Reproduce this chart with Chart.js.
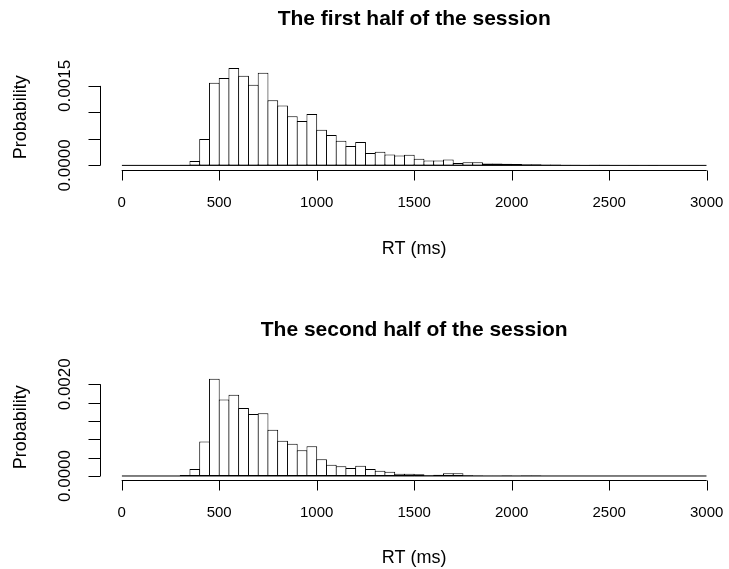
<!DOCTYPE html>
<html>
<head>
<meta charset="utf-8">
<script src="https://cdn.jsdelivr.net/npm/chart.js@4/dist/chart.umd.min.js"></script>
<style>
  html, body { margin: 0; padding: 0; background: #ffffff; }
  #wrap { position: relative; width: 729px; height: 569px; background: #ffffff; }
  canvas { position: absolute; left: 0; top: 0; }
</style>
</head>
<body>
<div id="wrap">
  <canvas id="c1" width="729" height="569"></canvas>
  <canvas id="c2" width="729" height="569"></canvas>
</div>
<script>
// ---------- DATA ----------
const binStartsMs = [0,50,100,150,200,250,300,350,400,450,500,550,600,650,700,750,800,850,900,950,
  1000,1050,1100,1150,1200,1250,1300,1350,1400,1450,1500,1550,1600,1650,1700,1750,1800,1850,1900,1950,
  2000,2050,2100,2150,2200,2250,2300,2350,2400,2450,2500,2550,2600,2650,2700,2750,2800,2850,2900,2950];
const binWidthMs = 50;

const firstHalfDensity = [0,0,0,0,0,0,0.000012,0.000082,0.000497,0.00156,
  0.00165,0.00184,0.00169,0.00152,0.00175,0.00123,0.00113,0.000925,0.000837,0.00097,
  0.000673,0.000572,0.000465,0.000365,0.00044,0.000233,0.000258,0.000208,0.000189,0.0002,
  0.000126,0.000094,0.000094,0.000113,0.000044,0.000058,0.000058,0.000036,0.000036,0.00003,
  0.000025,0.00002,0.00002,0.000015,0.000015,0.00001,0.000012,0.000006,0.00001,0.00001,
  0.000006,0.000005,0.000008,0.000005,0.000008,0,0,0,0,0];

const secondHalfDensity = [0,0,0,0,0,0,0.00002,0.000153,0.00075,0.00212,
  0.00167,0.00177,0.00148,0.00135,0.00137,0.00101,0.00077,0.000705,0.00056,0.000647,
  0.000364,0.000247,0.000211,0.000175,0.000225,0.000153,0.000115,0.000095,0.00005,0.00005,
  0.000036,0.000015,0.000025,0.000058,0.000058,0.000015,0.00001,0.000007,0.000007,0.00001,
  0.000007,0.00001,0.00001,0,0,0,0,0,0,0,
  0,0,0,0,0,0,0,0,0,0];

const xTickValues = [0,500,1000,1500,2000,2500,3000];
const xTickLabels = ["0","500","1000","1500","2000","2500","3000"];
const firstYTicks = [0,0.0005,0.0010,0.0015];
const firstYTickLabels = ["0.0000","","","0.0015"];
const secondYTicks = [0,0.0004,0.0008,0.0012,0.0016,0.0020];
const secondYTickLabels = ["0.0000","","","","","0.0020"];
const panelTitles = ["The first half of the session","The second half of the session"];
const xAxisTitle = "RT (ms)";
const yAxisTitle = "Probability";

// ---------- DRAWING ----------
const FONT = '"Liberation Sans", Arial, Helvetica, sans-serif';

const rAxesPlugin = {
  id: 'rAxes',
  afterDraw(chart, args, o) {
    const ctx = chart.ctx;
    const xs = chart.scales.x, ys = chart.scales.y;
    const ca = chart.chartArea;
    ctx.save();
    ctx.strokeStyle = '#000';
    ctx.fillStyle = '#000';
    ctx.lineWidth = 1;

    // x axis
    const yAx = Math.round(ca.bottom) + 0.5;
    const xa = xs.getPixelForValue(o.xTicks[0]);
    const xb = xs.getPixelForValue(o.xTicks[o.xTicks.length - 1]);
    ctx.beginPath();
    ctx.moveTo(xa, yAx); ctx.lineTo(xb, yAx);
    o.xTicks.forEach(v => {
      const px = Math.round(xs.getPixelForValue(v)) + 0.5;
      ctx.moveTo(px, yAx); ctx.lineTo(px, yAx + 10);
    });
    ctx.stroke();
    ctx.font = '15px ' + FONT;
    ctx.textAlign = 'center';
    ctx.textBaseline = 'middle';
    o.xTicks.forEach((v, i) => {
      ctx.fillText(o.xLabels[i], xs.getPixelForValue(v), ca.bottom + 33);
    });
    ctx.font = '18px ' + FONT;
    ctx.fillText(o.xTitle, (ca.left + ca.right) / 2, ca.bottom + 79);

    // y axis
    const xAy = Math.round(ca.left - 21.7) + 0.5;
    const ya = ys.getPixelForValue(o.yTicks[0]);
    const yb = ys.getPixelForValue(o.yTicks[o.yTicks.length - 1]);
    ctx.beginPath();
    ctx.moveTo(xAy, ya); ctx.lineTo(xAy, yb);
    o.yTicks.forEach(v => {
      const py = Math.round(ys.getPixelForValue(v)) + 0.5;
      ctx.moveTo(xAy, py); ctx.lineTo(xAy - 12, py);
    });
    ctx.stroke();
    ctx.font = '17px ' + FONT;
    o.yTicks.forEach((v, i) => {
      if (!o.yLabels[i]) return;
      ctx.save();
      ctx.translate(65, ys.getPixelForValue(v));
      ctx.rotate(-Math.PI / 2);
      ctx.fillText(o.yLabels[i], 0, 0);
      ctx.restore();
    });
    ctx.font = '18px ' + FONT;
    ctx.save();
    ctx.translate(21, (ca.top + ca.bottom) / 2);
    ctx.rotate(-Math.PI / 2);
    ctx.fillText(o.yTitle, 0, 0);
    ctx.restore();

    // title
    ctx.font = 'bold 21px ' + FONT;
    ctx.fillText(o.title, (ca.left + ca.right) / 2, ca.top + o.titleOffset);
    ctx.restore();
  }
};

function makePanel(canvasId, values, yTicks, yLabels, title, yMin, yMax, pad, titleOffset) {
  const barData = binStartsMs.map((s, i) => ({ x: s + binWidthMs / 2, y: values[i] }));
  const baseData = [{ x: xTickValues[0], y: 0 }, { x: xTickValues[xTickValues.length - 1], y: 0 }];
  return new Chart(document.getElementById(canvasId), {
    type: 'bar',
    data: {
      datasets: [
        {
          type: 'bar',
          data: barData,
          backgroundColor: '#ffffff',
          borderColor: '#000000',
          borderWidth: 1,
          borderSkipped: false,
          barPercentage: 1.1,
          categoryPercentage: 1.0,
          order: 2
        },
        {
          type: 'line',
          data: baseData,
          borderColor: '#000000',
          borderWidth: 1,
          pointRadius: 0,
          fill: false,
          order: 1
        }
      ]
    },
    options: {
      responsive: false,
      animation: false,
      devicePixelRatio: 1,
      layout: { padding: pad },
      plugins: {
        legend: { display: false },
        title: { display: false },
        tooltip: { enabled: false },
        rAxes: {
          xTicks: xTickValues, xLabels: xTickLabels, xTitle: xAxisTitle,
          yTicks: yTicks, yLabels: yLabels, yTitle: yAxisTitle,
          title: title, titleOffset: titleOffset
        }
      },
      scales: {
        x: { type: 'linear', display: false, min: 0, max: 3000, offset: false },
        y: { type: 'linear', display: false, min: yMin, max: yMax }
      }
    },
    plugins: [rAxesPlugin]
  });
}

makePanel('c1', firstHalfDensity, firstYTicks, firstYTickLabels, panelTitles[0],
  -0.0000868, 0.0019, { left: 121.7, right: 22.3, top: 64.7, bottom: 399 }, -45);
makePanel('c2', secondHalfDensity, secondYTicks, secondYTickLabels, panelTitles[1],
  -0.0000764, 0.0022, { left: 121.7, right: 22.3, top: 375.1, bottom: 89.5 }, -45);
</script>
</body>
</html>
